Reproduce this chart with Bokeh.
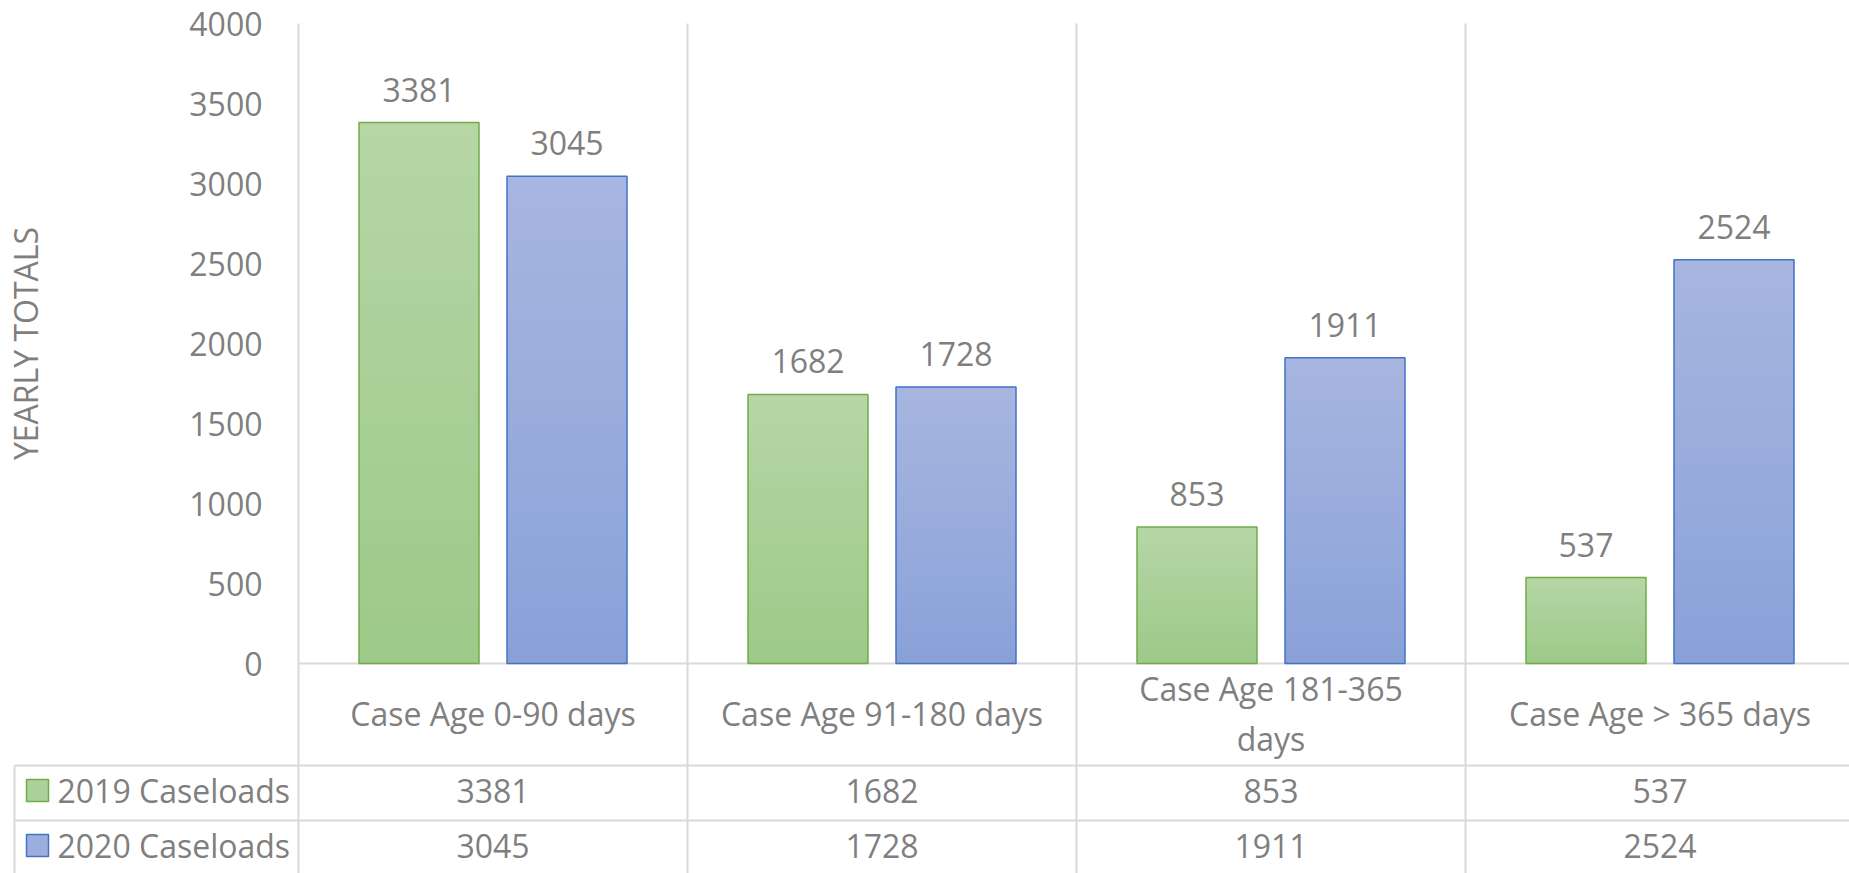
import numpy as np
from bokeh.plotting import figure
from bokeh.models import Range1d, FixedTicker, LinearAxis
from bokeh.core.properties import value
from bokeh.embed import file_html
from bokeh.resources import INLINE

# ---------------- data ----------------
categories = ["Case Age 0-90 days", "Case Age 91-180 days",
              "Case Age 181-365 days", "Case Age > 365 days"]
category_labels = ["Case Age 0-90 days", "Case Age 91-180 days",
                   "Case Age 181-365\ndays", "Case Age > 365 days"]
series_names = ["2019 Caseloads", "2020 Caseloads"]
caseloads_2019 = [3381, 1682, 853, 537]
caseloads_2020 = [3045, 1728, 1911, 2524]
y_ticks = [0, 500, 1000, 1500, 2000, 2500, 3000, 3500, 4000]
y_axis_title = "YEARLY TOTALS"

# ---------------- style / layout ----------------
FONT = "Open Sans"
FS = "32px"
TEXT = "#7f7f7f"
GRID = "#d9d9d9"
GREEN_TOP, GREEN_BOT, GREEN_LINE = (182, 214, 166), (157, 201, 137), "#70ad47"
BLUE_TOP, BLUE_BOT, BLUE_LINE = (168, 182, 224), (137, 161, 216), "#4472c4"

FIG_W, FIG_H = 1849, 873
MARGIN = 0                 # figure observed at page origin
AXIS_X_PAGE = 298          # page x of the first category boundary
CAT_W_PX = 389             # width of one category column
ZERO_Y_PAGE = 663          # page y of value 0
PX_PER_UNIT = 640 / 4000   # vertical scale


def X(px):
    return (px - AXIS_X_PAGE) / CAT_W_PX


def Y(py):
    return (ZERO_Y_PAGE - py) / PX_PER_UNIT


x_start, x_end = X(MARGIN), X(MARGIN + FIG_W)
y_start, y_end = Y(MARGIN + FIG_H), Y(MARGIN)

p = figure(width=FIG_W, height=FIG_H,
           x_range=Range1d(x_start, x_end), y_range=Range1d(y_start, y_end),
           output_backend="svg", toolbar_location=None,
           x_axis_location=None, y_axis_location=None, min_border=0)
p.outline_line_color = None
p.background_fill_color = "white"
p.grid.visible = False

yaxis = LinearAxis(ticker=FixedTicker(ticks=y_ticks), fixed_location=0,
                   bounds=(min(y_ticks), max(y_ticks)),
                   axis_line_color=None, major_tick_line_color=None,
                   minor_tick_line_color=None, major_tick_in=0, major_tick_out=0,
                   major_label_standoff=36,
                   major_label_text_font=FONT, major_label_text_font_size=FS,
                   major_label_text_color=TEXT,
                   axis_label=y_axis_title, axis_label_standoff=139,
                   axis_label_text_font=FONT, axis_label_text_font_size="32px",
                   axis_label_text_font_style="normal", axis_label_text_color=TEXT)
p.add_layout(yaxis, "left")

n = len(categories)
centers = np.arange(n) + 0.5
bottom_line = y_start

# ---------------- grid / table lines ----------------
bounds = np.arange(n + 1)
p.segment(x0=bounds, y0=[bottom_line] * (n + 1), x1=bounds, y1=[max(y_ticks)] * (n + 1),
          line_color=GRID, line_width=2)
p.segment(x0=[0, X(14), X(14)], y0=[0, Y(765), Y(820)],
          x1=[x_end, x_end, x_end], y1=[0, Y(765), Y(820)],
          line_color=GRID, line_width=2)
p.segment(x0=[X(14)], y0=[Y(765)], x1=[X(14)], y1=[bottom_line],
          line_color=GRID, line_width=2)

# ---------------- bars ----------------
BAR_W = 120 / CAT_W_PX
OFFSET = 74 / CAT_W_PX
NSTRIP = 30


def mix(c0, c1, t):
    r, g, b = (int(round(a + (b_ - a) * t)) for a, b_ in zip(c0, c1))
    return "#%02x%02x%02x" % (r, g, b)


for vals, dx, ctop, cbot, cline in [
        (caseloads_2019, -OFFSET, GREEN_TOP, GREEN_BOT, GREEN_LINE),
        (caseloads_2020, OFFSET, BLUE_TOP, BLUE_BOT, BLUE_LINE)]:
    xs = centers + dx
    p.vbar(x=xs, top=vals, bottom=0, width=BAR_W,
           fill_color=mix(ctop, cbot, 0.5), line_color=None)
    # vertical gradient (light top, darker bottom)
    L, R, B, T, C = [], [], [], [], []
    for x, v in zip(xs, vals):
        for k in range(NSTRIP):
            L.append(x - BAR_W / 2)
            R.append(x + BAR_W / 2)
            B.append(v * k / NSTRIP)
            T.append(v)
            C.append(mix(cbot, ctop, (k + 0.5) / NSTRIP))
    p.quad(left=L, right=R, bottom=B, top=T, fill_color=C, line_color=None)
    p.vbar(x=xs, top=vals, bottom=0, width=BAR_W,
           fill_color=None, line_color=cline, line_width=1.5)
    p.text(x=xs, y=vals, text=[str(v) for v in vals], y_offset=-33,
           text_align="center", text_baseline="middle",
           text_font=value(FONT), text_font_size=FS, text_color=TEXT)

# ---------------- data table ----------------
p.text(x=centers, y=[Y(713)] * n, text=category_labels,
       text_align="center", text_baseline="middle", text_line_height=1.15,
       text_font=value(FONT), text_font_size=FS, text_color=TEXT)

row_y = [Y(790), Y(845)]
for vals, ry in zip([caseloads_2019, caseloads_2020], row_y):
    p.text(x=centers, y=[ry] * n, text=[str(v) for v in vals],
           text_align="center", text_baseline="middle",
           text_font=value(FONT), text_font_size=FS, text_color=TEXT)

p.scatter(x=[X(37)] * 2, y=row_y, marker="square", size=22,
          fill_color=[mix(GREEN_TOP, GREEN_BOT, 0.4), mix(BLUE_TOP, BLUE_BOT, 0.4)],
          line_color=[GREEN_LINE, BLUE_LINE], line_width=1.5)
p.text(x=[X(57)] * 2, y=row_y, text=series_names,
       text_align="left", text_baseline="middle",
       text_font=value(FONT), text_font_size=FS, text_color=TEXT)

open("out.html", "w").write(file_html(p, INLINE))
